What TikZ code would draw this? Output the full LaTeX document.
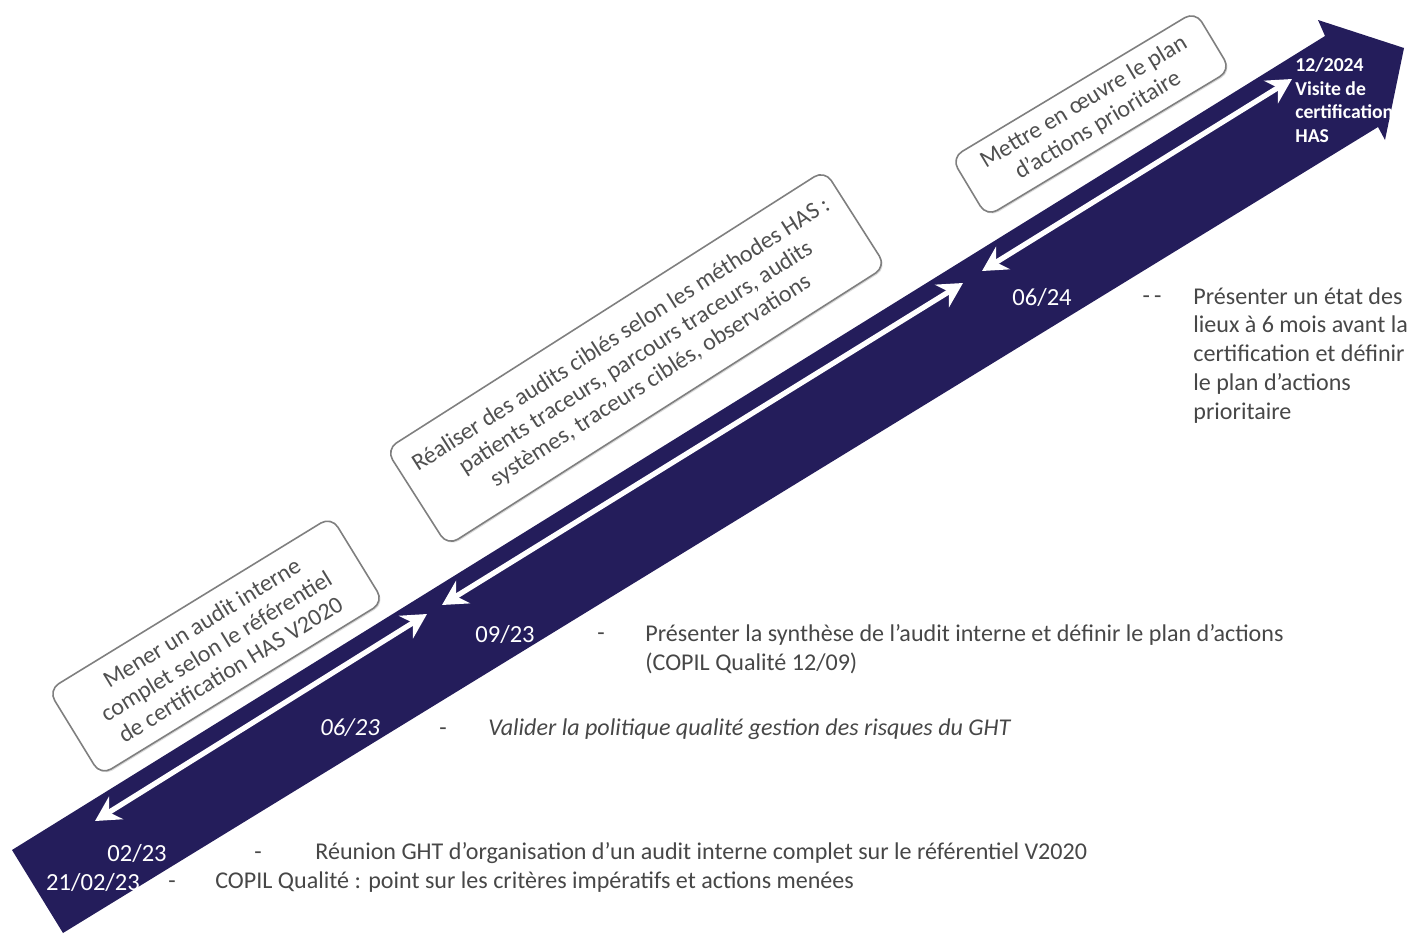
\documentclass[tikz,border=0pt]{standalone}
\usepackage{fontspec}
\setmainfont{Carlito}
\usetikzlibrary{arrows.meta,shadows}

\definecolor{bandblue}{HTML}{241D5B}
\definecolor{boxgray}{HTML}{7F7F7F}
\definecolor{boxtext}{HTML}{505050}
\definecolor{desctext}{HTML}{474747}

\begin{document}
\begin{tikzpicture}[x=0.02cm, y=-0.02cm,
  every node/.style={inner sep=0pt, font=\fontsize{13.7}{16.4}\selectfont},
  stepbox/.style={draw=boxgray, line width=0.9pt, fill=white, rounded corners=7pt, align=center, text=boxtext,
    font=\fontsize{13.6}{15.6}\selectfont,
    drop shadow={opacity=0.3, shadow xshift=0.8pt, shadow yshift=-0.8pt}},
  datelbl/.style={text=white, font=\fontsize{14}{16}\selectfont},
  desc/.style={anchor=west, text=desctext},
  sepmark/.style={text=desctext, text height=10pt, text depth=3pt},
  whitearrow/.style={white, line width=3pt, {Stealth[length=14pt,width=15pt]}-{Stealth[length=14pt,width=15pt]}}]

  \useasboundingbox (0,0) rectangle (1412,933);

  % Band
  \fill[bandblue] (12,850) -- (1325,36) -- (1318,20) -- (1404,48) -- (1385,140) -- (1378,127) -- (63,933) -- cycle;

  % Arrows in the band
  \coordinate (a1s) at (95,821);
  \coordinate (a1e) at (427,614);
  \coordinate (a2s) at (442,605);
  \coordinate (a2e) at (963,283);
  \coordinate (a3s) at (982,271);
  \coordinate (a3e) at (1292,79);
  \draw[whitearrow] (a1s) -- (a1e);
  \draw[whitearrow] (a2s) -- (a2e);
  \draw[whitearrow] (a3s) -- (a3e);

  % Steps
  \node[stepbox, rotate=31.5, minimum width=189pt, minimum height=57pt] (audit) at (216,646) {Mener un audit interne\\complet selon le référentiel\\de certification HAS V2020};
  \node[stepbox, rotate=32.5, minimum width=296pt, minimum height=65pt] (cibles) at (636,358) {Réaliser des audits ciblés selon les méthodes HAS :\\patients traceurs, parcours traceurs, audits\\systèmes, traceurs ciblés, observations};
  \node[stepbox, rotate=31, minimum width=162pt, minimum height=39pt] (plan) at (1091,114) {Mettre en œuvre le plan\\d’actions prioritaire};

  % Dates
  \node[datelbl] (d0223) at (137,853) {02/23};
  \node[datelbl] (d210223) at (93,882) {21/02/23};
  \node[datelbl, font=\fontsize{14}{16}\selectfont\itshape] (d0623) at (350,728) {06/23};
  \node[datelbl] (d0923) at (505,634) {09/23};
  \node[datelbl] (d0624) at (1042,297) {06/24};
  \node[text=white, font=\fontsize{11.2}{13.6}\selectfont\bfseries, align=left, anchor=north west] (visite) at (1295,57) {12/2024\\Visite de\\certification\\HAS};

  % Descriptions
  \node[sepmark] (s0223) at (258,853) {-};
  \node[desc] (t0223) at (315,853) {Réunion GHT d’organisation d’un audit interne complet sur le référentiel V2020};
  \node[sepmark] (s210223) at (172,882) {-};
  \node[desc] (t210223) at (215,882) {COPIL Qualité : point sur les critères impératifs et actions menées};
  \node[sepmark] (s0623) at (443,729) {-};
  \node[desc, font=\fontsize{13.7}{16.4}\selectfont\itshape] (t0623) at (488,729) {Valider la politique qualité gestion des risques du GHT};
  \node[sepmark] (s0923) at (601,634) {-};
  \node[desc, anchor=north west, align=left] (t0923) at (645,624) {Présenter la synthèse de l’audit interne et définir le plan d’actions\\(COPIL Qualité 12/09)};
  \node[sepmark] (s0624) at (1152,297) {-\,-};
  \node[desc, anchor=north west, align=left] (t0624) at (1193,287) {Présenter un état des\\lieux à 6 mois avant la\\certification et définir\\le plan d’actions\\prioritaire};

\end{tikzpicture}
\end{document}
